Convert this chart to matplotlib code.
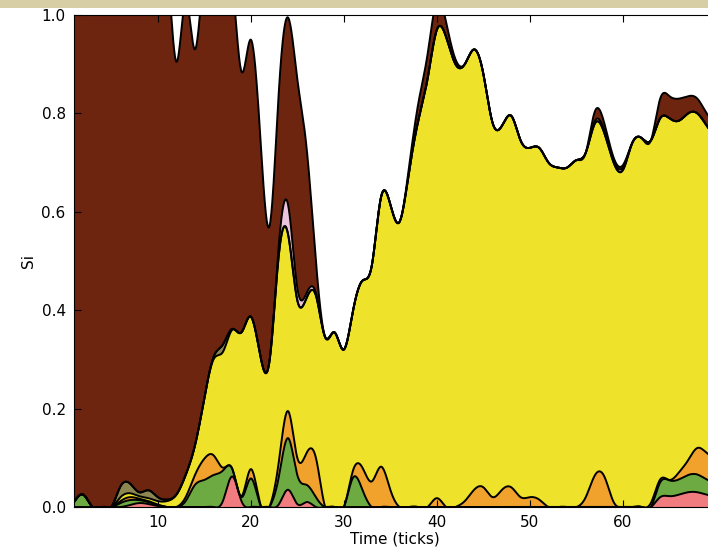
import numpy as np
import matplotlib
matplotlib.use("Agg")
import matplotlib.pyplot as plt
from matplotlib.patches import Rectangle

# time axis (ticks)
ticks = list(range(1, 71))

# upper edge of each band (stacked, bottom to top)
pink_top = [0, 0, 0, 0, 0, 0, 0.004, 0.008, 0.006, 0.002,
            0, 0, 0, 0, 0, 0, 0.012, 0.062, 0.012, 0,
            0, 0, 0.005, 0.035, 0.006, 0.01, 0, 0, 0, 0,
            0, 0, 0, 0, 0, 0, 0, 0, 0, 0,
            0, 0, 0, 0, 0, 0, 0, 0, 0, 0,
            0, 0, 0, 0, 0, 0, 0, 0, 0, 0,
            0, 0, 0, 0.02, 0.022, 0.025, 0.03, 0.03, 0.025, 0.022]

green_top = [0.01, 0.025, 0, 0, 0, 0.008, 0.014, 0.014, 0.01, 0.004,
             0, 0, 0.012, 0.045, 0.055, 0.065, 0.074, 0.078, 0.02, 0.058,
             0.005, 0, 0.06, 0.14, 0.065, 0.045, 0.02, 0, 0, 0,
             0.06, 0.035, 0, 0, 0, 0, 0, 0, 0, 0,
             0, 0, 0, 0, 0, 0, 0, 0, 0, 0,
             0, 0, 0, 0, 0, 0, 0, 0, 0, 0,
             0, 0, 0, 0.05, 0.054, 0.056, 0.065, 0.066, 0.056, 0.05]

orange_top = [0.01, 0.025, 0, 0, 0, 0.012, 0.02, 0.017, 0.012, 0.005,
              0, 0, 0.02, 0.065, 0.098, 0.105, 0.08, 0.078, 0.022, 0.077,
              0.008, 0, 0.09, 0.195, 0.1, 0.11, 0.1, 0, 0, 0,
              0.075, 0.08, 0.052, 0.082, 0.035, 0, 0, 0, 0, 0.018,
              0, 0, 0.012, 0.035, 0.04, 0.02, 0.035, 0.04, 0.02, 0.02,
              0.015, 0, 0, 0, 0, 0.02, 0.065, 0.062, 0.01, 0,
              0, 0, 0.008, 0.056, 0.055, 0.07, 0.095, 0.12, 0.11, 0.1]

yellow_top = [0.01, 0.025, 0, 0, 0, 0.02, 0.028, 0.022, 0.018, 0.012,
              0.012, 0.025, 0.065, 0.125, 0.22, 0.3, 0.315, 0.36, 0.355, 0.387,
              0.31, 0.295, 0.51, 0.555, 0.42, 0.425, 0.43, 0.345, 0.355, 0.32,
              0.4, 0.46, 0.49, 0.63, 0.615, 0.58, 0.68, 0.785, 0.87, 0.97,
              0.955, 0.9, 0.9, 0.93, 0.88, 0.78, 0.775, 0.795, 0.745, 0.73,
              0.73, 0.7, 0.69, 0.69, 0.705, 0.72, 0.78, 0.76, 0.7, 0.685,
              0.74, 0.75, 0.745, 0.79, 0.79, 0.785, 0.8, 0.8, 0.775, 0.75]

olive_top = [0.01, 0.025, 0, 0, 0, 0.042, 0.048, 0.03, 0.034, 0.02,
             0.015, 0.025, 0.065, 0.125, 0.22, 0.305, 0.33, 0.362, 0.355, 0.387,
             0.31, 0.295, 0.51, 0.555, 0.42, 0.425, 0.43, 0.345, 0.355, 0.32,
             0.4, 0.46, 0.49, 0.63, 0.615, 0.58, 0.68, 0.785, 0.87, 0.97,
             0.955, 0.9, 0.9, 0.93, 0.88, 0.78, 0.775, 0.795, 0.745, 0.73,
             0.73, 0.7, 0.69, 0.69, 0.705, 0.72, 0.78, 0.76, 0.7, 0.685,
             0.74, 0.75, 0.745, 0.79, 0.79, 0.785, 0.8, 0.8, 0.775, 0.75]

lpink_top = [0.01, 0.025, 0, 0, 0, 0.042, 0.048, 0.03, 0.034, 0.02,
             0.015, 0.025, 0.065, 0.125, 0.22, 0.305, 0.33, 0.362, 0.355, 0.387,
             0.31, 0.295, 0.53, 0.615, 0.445, 0.435, 0.435, 0.345, 0.355, 0.32,
             0.4, 0.46, 0.49, 0.63, 0.615, 0.58, 0.68, 0.785, 0.87, 0.97,
             0.955, 0.9, 0.9, 0.93, 0.88, 0.78, 0.775, 0.795, 0.745, 0.73,
             0.73, 0.7, 0.69, 0.69, 0.705, 0.72, 0.785, 0.765, 0.705, 0.69,
             0.74, 0.75, 0.745, 0.79, 0.79, 0.785, 0.8, 0.8, 0.775, 0.75]

brown_top = [1.1, 1.1, 1.1, 1.1, 1.1, 1.1, 1.1, 1.1, 1.1, 1.1,
             1.1, 0.905, 1.03, 0.93, 1.1, 1.15, 1.12, 1.07, 0.885, 0.95,
             0.76, 0.57, 0.84, 0.995, 0.87, 0.73, 0.5, 0.345, 0.355, 0.32,
             0.4, 0.46, 0.49, 0.63, 0.615, 0.58, 0.69, 0.82, 0.92, 1.03,
             0.985, 0.91, 0.9, 0.93, 0.88, 0.78, 0.775, 0.795, 0.745, 0.73,
             0.73, 0.7, 0.69, 0.69, 0.705, 0.72, 0.805, 0.78, 0.71, 0.695,
             0.74, 0.75, 0.745, 0.83, 0.835, 0.83, 0.835, 0.83, 0.8, 0.78]

bands = [
    (pink_top, "#f07c80"),
    (green_top, "#6dab42"),
    (orange_top, "#f0a22c"),
    (yellow_top, "#eee22a"),
    (olive_top, "#8c8650"),
    (lpink_top, "#ebc3dc"),
    (brown_top, "#6e2510"),
]


def smooth(x, y, xs):
    # natural cubic spline through the tick values
    x = np.asarray(x, float)
    y = np.asarray(y, float)
    n = len(x)
    h = np.diff(x)
    A = np.zeros((n, n))
    b = np.zeros(n)
    A[0, 0] = A[-1, -1] = 1
    for i in range(1, n - 1):
        A[i, i - 1] = h[i - 1]
        A[i, i] = 2 * (h[i - 1] + h[i])
        A[i, i + 1] = h[i]
        b[i] = 3 * ((y[i + 1] - y[i]) / h[i] - (y[i] - y[i - 1]) / h[i - 1])
    c = np.linalg.solve(A, b)
    bb = (y[1:] - y[:-1]) / h - h * (2 * c[:-1] + c[1:]) / 3
    d = (c[1:] - c[:-1]) / (3 * h)
    idx = np.clip(np.searchsorted(x, xs) - 1, 0, n - 2)
    dx = xs - x[idx]
    return y[idx] + bb[idx] * dx + c[idx] * dx ** 2 + d[idx] * dx ** 3


fig = plt.figure(figsize=(7.08, 5.49), dpi=100)
fig.patches.append(Rectangle((0, 1 - 8 / 549), 1, 8 / 549, transform=fig.transFigure,
                             facecolor="#d8cea6", edgecolor="none", zorder=0))
ax = fig.add_axes([74 / 708, 42 / 549, 642 / 708, 492 / 549])

xs = np.linspace(ticks[0], ticks[-1], 1400)
lower = np.zeros_like(xs)
for top, color in bands:
    upper = smooth(ticks, top, xs)
    ax.fill_between(xs, lower, upper, facecolor=color, edgecolor="none", lw=0)
    lower = upper
for top, color in bands:
    ax.plot(xs, smooth(ticks, top, xs), color="black", lw=1.4, solid_capstyle="round")

ax.set_xlim(1, 70)
ax.set_ylim(0, 1)
ax.set_xticks([10, 20, 30, 40, 50, 60])
ax.set_yticks([0.0, 0.2, 0.4, 0.6, 0.8, 1.0])
ax.set_yticklabels(["0.0", "0.2", "0.4", "0.6", "0.8", "1.0"])
ax.tick_params(direction="in", top=True, right=True, length=5, labelsize=11, pad=6)
ax.spines["right"].set_visible(False)
ax.set_xlabel("Time (ticks)", fontsize=11, labelpad=1)
ax.set_ylabel("Si", fontsize=11, labelpad=4)

fig.savefig("out.png", dpi=100)
